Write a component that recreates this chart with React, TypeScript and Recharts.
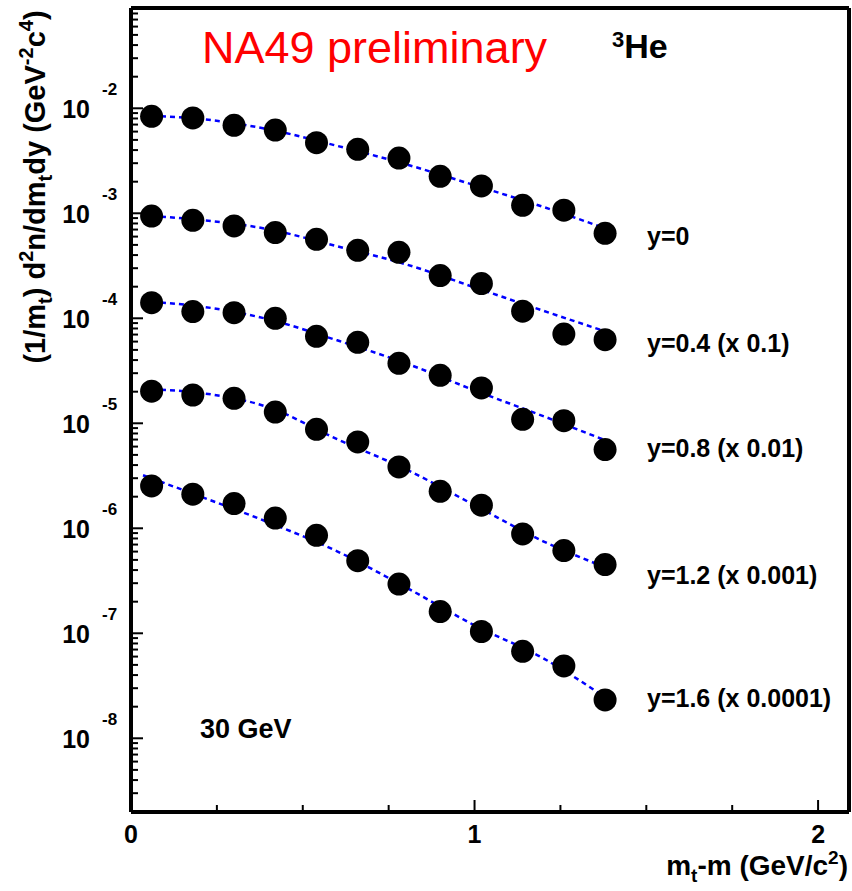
import { ComposedChart, Line, Scatter, XAxis, YAxis } from "recharts";

// measured points, x in GeV/c^2
const ptX = [0.06, 0.18, 0.3, 0.42, 0.54, 0.66, 0.78, 0.9, 1.02, 1.14, 1.26, 1.38];

const y00 = [8.39e-3, 8.09e-3, 6.89e-3, 6.21e-3, 4.71e-3, 4.07e-3, 3.36e-3, 2.25e-3, 1.82e-3, 1.19e-3, 1.07e-3, 6.45e-4];
const y04 = [9.42e-4, 8.57e-4, 7.57e-4, 6.55e-4, 5.65e-4, 4.44e-4, 4.25e-4, 2.55e-4, 2.14e-4, 1.17e-4, 7.08e-5, 6.26e-5];
const y08 = [1.41e-4, 1.16e-4, 1.13e-4, 1.0e-4, 6.74e-5, 5.91e-5, 3.73e-5, 2.86e-5, 2.17e-5, 1.09e-5, 1.06e-5, 5.62e-6];
const y12 = [2.02e-5, 1.86e-5, 1.73e-5, 1.28e-5, 8.77e-6, 6.64e-6, 3.84e-6, 2.25e-6, 1.66e-6, 8.83e-7, 6.13e-7, 4.51e-7];
const y16 = [2.53e-6, 2.11e-6, 1.72e-6, 1.25e-6, 8.57e-7, 4.92e-7, 2.94e-7, 1.61e-7, 1.04e-7, 6.74e-8, 4.89e-8, 2.32e-8];

// dashed fit curves
const fitX = [0.035, 0.2, 0.4, 0.6, 0.8, 1.0, 1.2, 1.38];
const fit00 = [8.5e-3, 7.94e-3, 6.31e-3, 4.39e-3, 2.93e-3, 1.85e-3, 1.15e-3, 7.2e-4];
const fit04 = [9.5e-4, 8.67e-4, 7.05e-4, 4.85e-4, 3.27e-4, 1.97e-4, 1.18e-4, 7.52e-5];
const fit08 = [1.45e-4, 1.3e-4, 9.78e-5, 6.17e-5, 3.73e-5, 2.06e-5, 1.17e-5, 6.89e-6];
const fit12 = [2.12e-5, 1.95e-5, 1.42e-5, 7.05e-6, 3.65e-6, 1.66e-6, 7.52e-7, 4.26e-7];
const fit16 = [3.2e-6, 2.02e-6, 1.14e-6, 6.04e-7, 2.74e-7, 1.19e-7, 5.78e-8, 2.46e-8];

const seriesLabels = ["y=0", "y=0.4 (x 0.1)", "y=0.8 (x 0.01)", "y=1.2 (x 0.001)", "y=1.6 (x 0.0001)"];
const labelBaselines = [245, 352, 457, 584, 707];

const xMajor = [0, 1, 2];
const xMinor = [0.25, 0.5, 0.75, 1.25, 1.5, 1.75];
const yMajor = [1e-2, 1e-3, 1e-4, 1e-5, 1e-6, 1e-7, 1e-8];

const X_DOMAIN: [number, number] = [0, 2.09];
const Y_DOMAIN: [number, number] = [1.986e-9, 0.0902];

const yMinor: number[] = [];
for (let e = -9; e <= -2; e++) {
  for (let m = 2; m <= 9; m++) {
    const v = m * Math.pow(10, e);
    if (v > Y_DOMAIN[0] * 1.05 && v < Y_DOMAIN[1]) yMinor.push(v);
  }
}

const toPoints = (xs: number[], ys: number[]) => xs.map((x, i) => ({ x, y: ys[i] }));

const pointSets = [y00, y04, y08, y12, y16];
const fitSets = [fit00, fit04, fit08, fit12, fit16];

const FONT = "'Liberation Sans', Arial, Helvetica, sans-serif";
const frame = { stroke: "#000", strokeWidth: 4 };

const XTick = (props: any) => {
  const { x, y, payload } = props;
  const major = xMajor.includes(payload.value);
  return (
    <g>
      <line x1={x} y1={y} x2={x} y2={y - (major ? 12 : 7)} stroke="#000" strokeWidth={2} />
      {major && (
        <text x={x} y={y + 31} textAnchor="middle" fontSize={25} fontWeight="bold" fill="#000" fontFamily={FONT}>
          {payload.value}
        </text>
      )}
    </g>
  );
};

const YTick = (props: any) => {
  const { x, y, payload } = props;
  const exp = Math.round(Math.log10(payload.value));
  const major = yMajor.some((v) => Math.abs(v - payload.value) / v < 1e-6);
  return (
    <g>
      <line x1={x} y1={y} x2={x + (major ? 12 : 7)} y2={y} stroke="#000" strokeWidth={2} />
      {major && (
        <g fontWeight="bold" fill="#000" fontFamily={FONT}>
          <text x={x - 41} y={y + 10} textAnchor="end" fontSize={25}>
            10
          </text>
          <text x={x - 29} y={y - 13} fontSize={17}>
            {exp}
          </text>
        </g>
      )}
    </g>
  );
};

const Dot = (props: any) => <circle cx={props.cx} cy={props.cy} r={11.5} fill="#000" />;

export default function App() {
  return (
    <div style={{ position: "absolute", left: 0, top: 0, background: "#fff" }}>
      <ComposedChart
        width={852}
        height={891}
        margin={{ top: 7, right: 2, bottom: 78, left: 130 }}
        style={{ fontFamily: FONT }}
      >
        <XAxis
          dataKey="x"
          type="number"
          domain={X_DOMAIN}
          allowDataOverflow
          ticks={[...xMajor, ...xMinor]}
          interval={0}
          height={1}
          tickSize={0}
          tickMargin={0}
          tickLine={false}
          axisLine={frame}
          tick={<XTick />}
        />
        <XAxis
          xAxisId="top"
          orientation="top"
          type="number"
          domain={X_DOMAIN}
          height={1}
          tick={false}
          tickLine={false}
          axisLine={frame}
        />
        <YAxis
          type="number"
          scale="log"
          domain={Y_DOMAIN}
          allowDataOverflow
          ticks={[...yMajor, ...yMinor]}
          interval={0}
          width={1}
          tickSize={0}
          tickMargin={0}
          tickLine={false}
          axisLine={frame}
          tick={<YTick />}
        />
        <YAxis
          yAxisId="right"
          orientation="right"
          type="number"
          domain={[0, 1]}
          width={1}
          tick={false}
          tickLine={false}
          axisLine={frame}
        />
        {fitSets.map((f, i) => (
          <Line
            key={"fit" + i}
            data={toPoints(fitX, f)}
            dataKey="y"
            type="monotone"
            stroke="#0000ff"
            strokeWidth={2.5}
            strokeDasharray="5 4"
            dot={false}
            activeDot={false}
            isAnimationActive={false}
          />
        ))}
        {pointSets.map((s, i) => (
          <Scatter
            key={"pts" + i}
            data={toPoints(ptX, s)}
            dataKey="y"
            fill="#000"
            shape={<Dot />}
            isAnimationActive={false}
          />
        ))}
        <text x={202} y={63} fill="#ff0000" fontSize={45} fontFamily={FONT}>
          NA49 preliminary
        </text>
        <text x={612} y={58} fontSize={34} fontWeight="bold" fontFamily={FONT}>
          <tspan fontSize={22} dy={-11}>3</tspan>
          <tspan dy={11}>He</tspan>
        </text>
        <text x={200} y={738} fontSize={27} fontWeight="bold" fontFamily={FONT}>
          30 GeV
        </text>
        {seriesLabels.map((s, i) => (
          <text key={s} x={647} y={labelBaselines[i]} fontSize={25} fontWeight="bold" fontFamily={FONT}>
            {s}
          </text>
        ))}
        <text x={848} y={875} textAnchor="end" fontSize={28} fontWeight="bold" fontFamily={FONT}>
          m<tspan fontSize={19} dy={7}>t</tspan>
          <tspan dy={-7}>-m (GeV/c</tspan>
          <tspan fontSize={19} dy={-11}>2</tspan>
          <tspan dy={11}>)</tspan>
        </text>
        <text
          transform="rotate(-90)"
          x={-187}
          y={45}
          textAnchor="middle"
          fontSize={29}
          fontWeight="bold"
          fontFamily={FONT}
        >
          (1/m<tspan fontSize={20} dy={7}>t</tspan>
          <tspan dy={-7}>) d</tspan>
          <tspan fontSize={20} dy={-12}>2</tspan>
          <tspan dy={12}>n/dm</tspan>
          <tspan fontSize={20} dy={7}>t</tspan>
          <tspan dy={-7}>dy (GeV</tspan>
          <tspan fontSize={20} dy={-12}>-2</tspan>
          <tspan dy={12}>c</tspan>
          <tspan fontSize={20} dy={-12}>4</tspan>
          <tspan dy={12}>)</tspan>
        </text>
      </ComposedChart>
    </div>
  );
}
